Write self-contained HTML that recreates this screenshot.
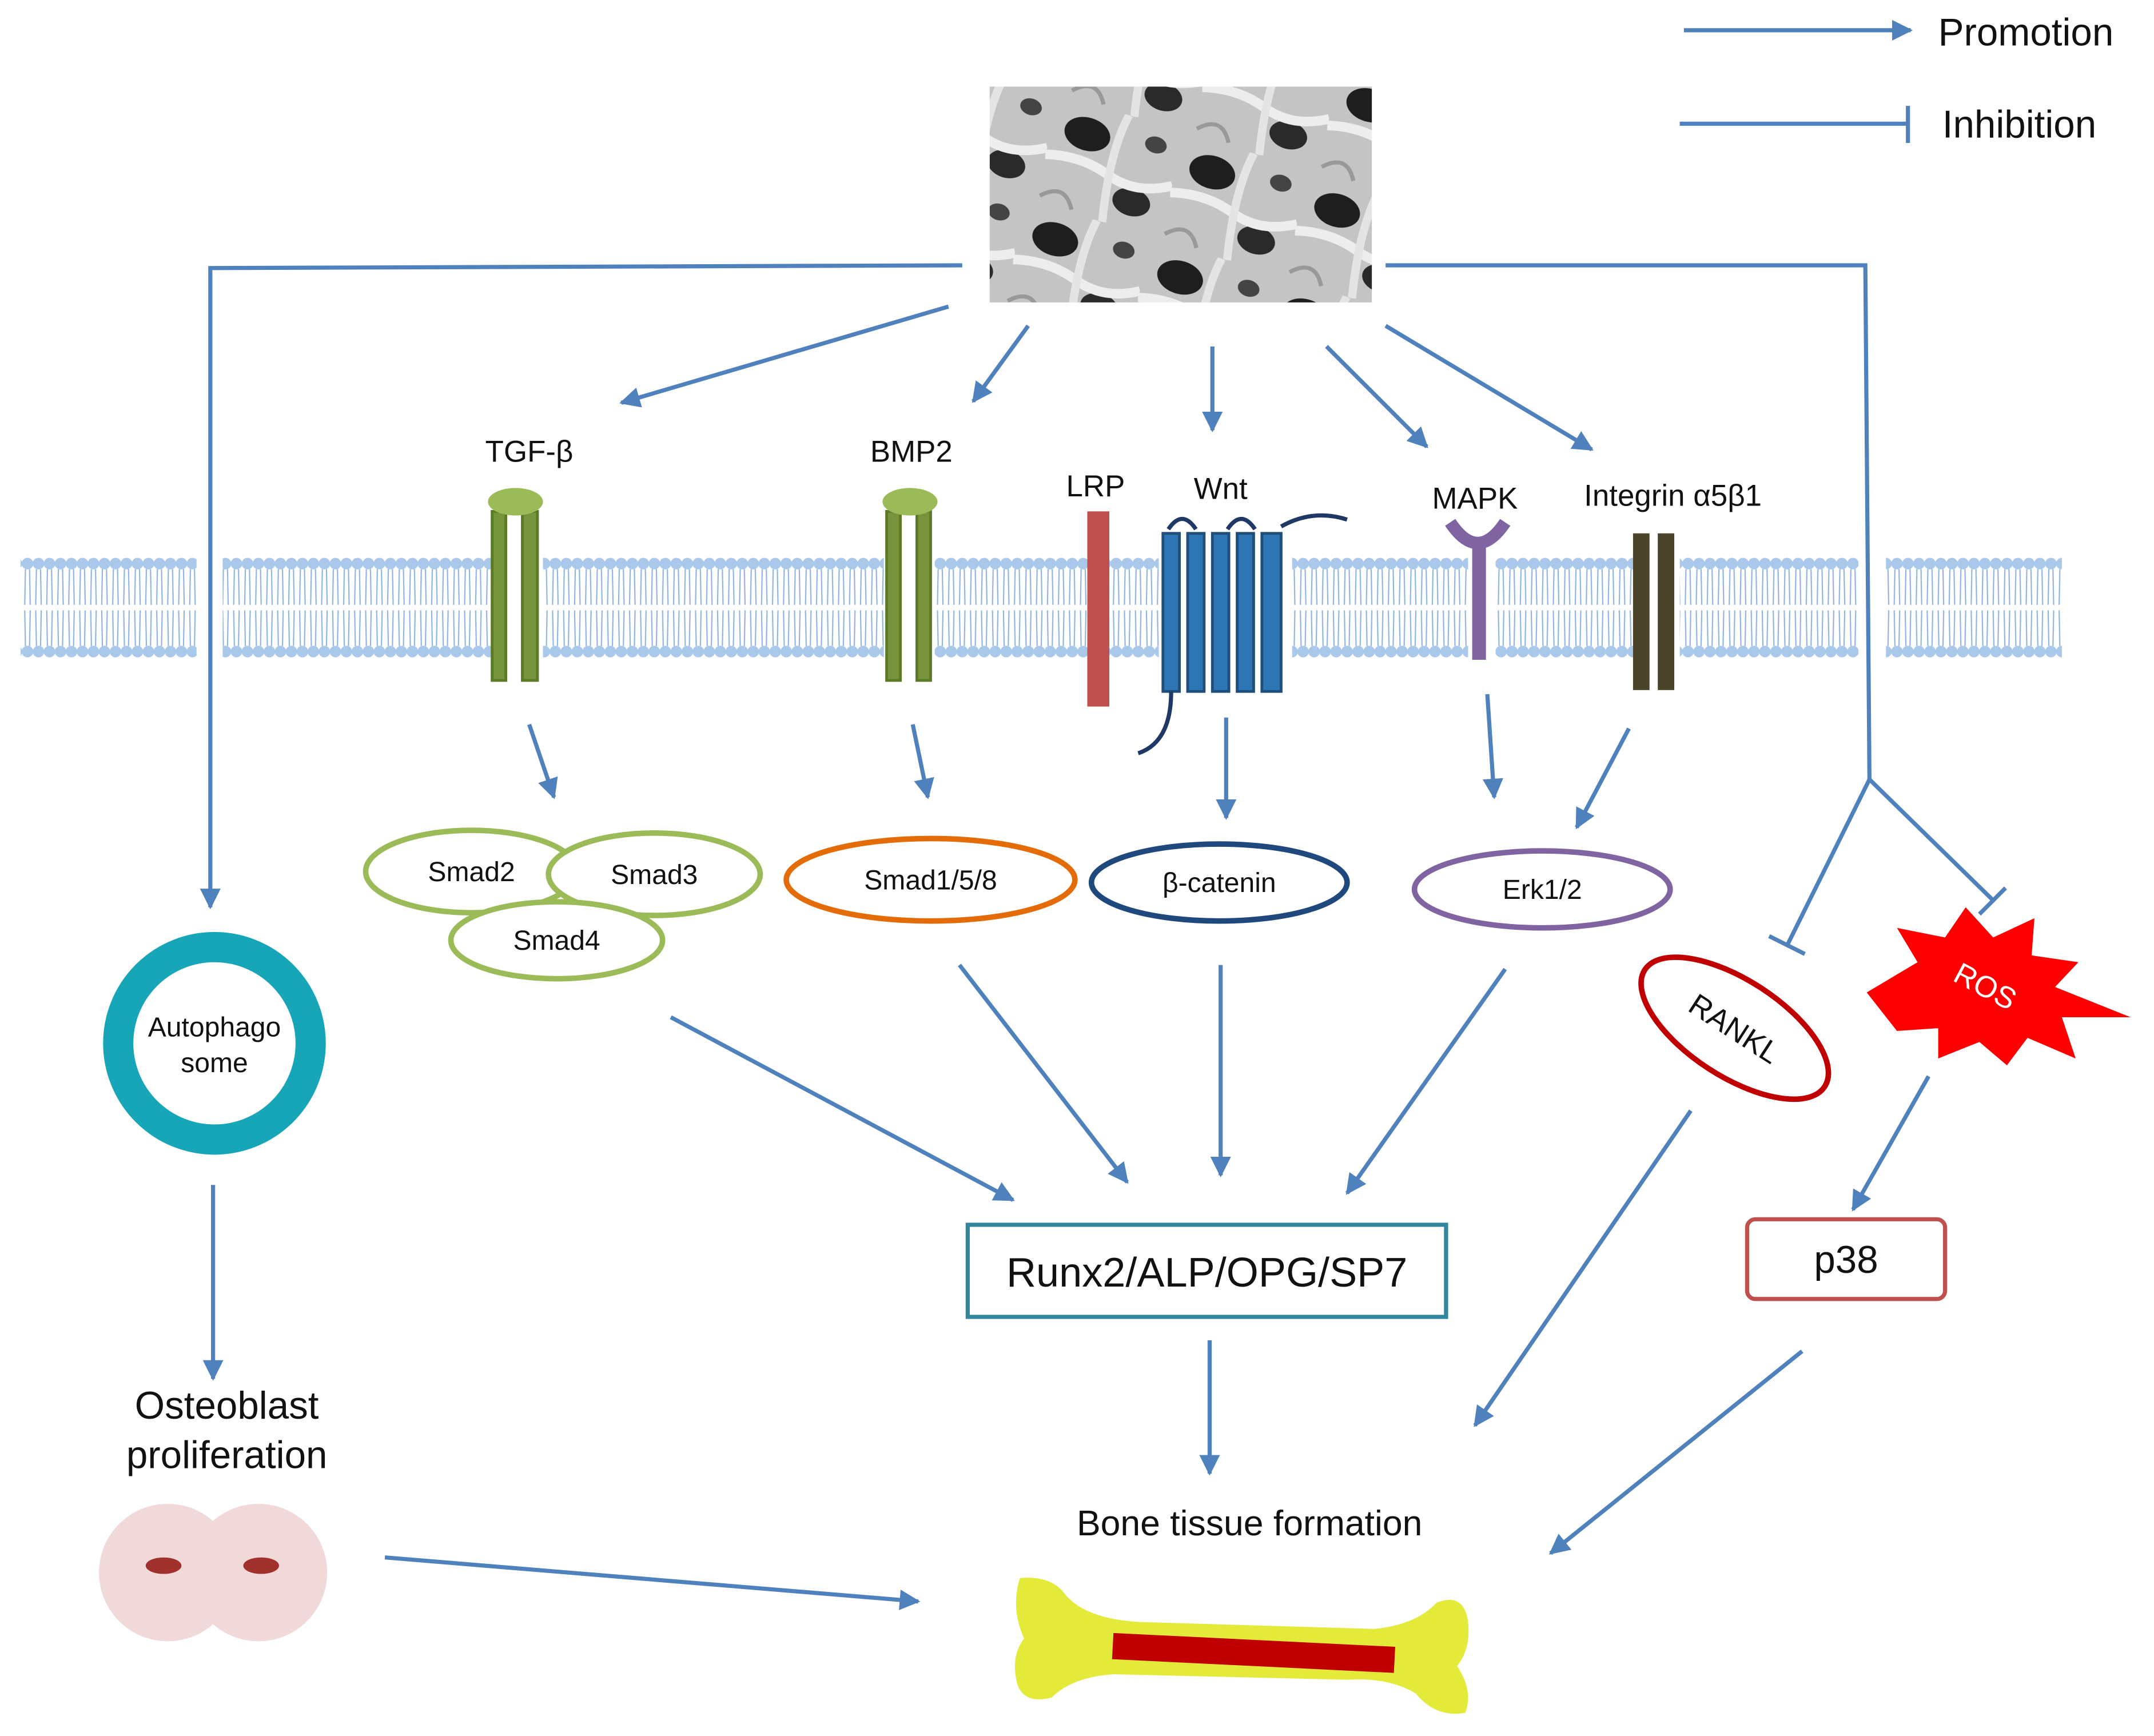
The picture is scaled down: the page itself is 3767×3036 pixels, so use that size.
<!DOCTYPE html>
<html><head><meta charset="utf-8"><style>
html,body{margin:0;padding:0;background:#fff;}
svg{display:block;}
text{font-family:"Liberation Sans",sans-serif;}
</style></head><body>
<svg width="3767" height="3036" viewBox="0 0 1567 1262.9" xmlns="http://www.w3.org/2000/svg">
<defs>
<marker id="a" viewBox="0 0 10 10" refX="9" refY="5" markerWidth="5" markerHeight="5" orient="auto"><path d="M0,0 L10,5 L0,10 z" fill="#4f81bd"/></marker>
<pattern id="mem" width="8" height="80" patternUnits="userSpaceOnUse" y="402">
<circle cx="4" cy="8" r="4.2" fill="#a9c8ea"/>
<circle cx="4" cy="72" r="4.2" fill="#a9c8ea"/>
<path d="M2.5,12 L2,38 M5.5,12 L6,38 M2,42 L2.5,68 M6,42 L5.5,68" stroke="#8fb4e0" stroke-width="0.9" fill="none"/>
</pattern>
<pattern id="sem" width="95" height="80" patternUnits="userSpaceOnUse" patternTransform="rotate(17)">
<rect width="95" height="80" fill="#c4c4c4"/>
<ellipse cx="25" cy="22" rx="17" ry="12" fill="#1e1e1e"/>
<ellipse cx="70" cy="60" rx="14" ry="10" fill="#2a2a2a"/>
<ellipse cx="75" cy="15" rx="8" ry="6" fill="#444"/>
<path d="M0,45 Q25,38 48,46 T95,40" stroke="#ededed" stroke-width="7" fill="none"/>
<path d="M50,0 Q44,30 54,80" stroke="#e4e4e4" stroke-width="6" fill="none"/>
<path d="M5,75 Q20,60 30,78" stroke="#999" stroke-width="3" fill="none"/>
</pattern>
</defs>
<g stroke="#4f81bd" stroke-width="3" fill="none">
<line x1="1225" y1="22" x2="1390" y2="22" marker-end="url(#a)"/>
<line x1="1222" y1="90" x2="1388" y2="90"/><line x1="1388" y1="77" x2="1388" y2="104"/>
<polyline points="700,193 153,195 153,660" marker-end="url(#a)"/>
<polyline points="1008,193 1357,193 1360,567"/>
<line x1="1360" y1="567" x2="1300" y2="688"/><line x1="1287" y1="681" x2="1313" y2="694"/>
<line x1="1360" y1="567" x2="1450" y2="655"/><line x1="1440" y1="665" x2="1459" y2="646"/>
<line x1="690" y1="223" x2="452" y2="293" marker-end="url(#a)"/>
<line x1="748" y1="237" x2="708" y2="292" marker-end="url(#a)"/>
<line x1="882" y1="252" x2="882" y2="313" marker-end="url(#a)"/>
<line x1="965" y1="252" x2="1038" y2="325" marker-end="url(#a)"/>
<line x1="1008" y1="237" x2="1158" y2="327" marker-end="url(#a)"/>
<line x1="385" y1="527" x2="403" y2="580" marker-end="url(#a)"/>
<line x1="664" y1="527" x2="675" y2="580" marker-end="url(#a)"/>
<line x1="892" y1="522" x2="892" y2="595" marker-end="url(#a)"/>
<line x1="1082" y1="505" x2="1087" y2="580" marker-end="url(#a)"/>
<line x1="1185" y1="530" x2="1147" y2="602" marker-end="url(#a)"/>
<line x1="488" y1="740" x2="737" y2="873" marker-end="url(#a)"/>
<line x1="698" y1="702" x2="820" y2="860" marker-end="url(#a)"/>
<line x1="888" y1="702" x2="888" y2="855" marker-end="url(#a)"/>
<line x1="1095" y1="705" x2="980" y2="868" marker-end="url(#a)"/>
<line x1="880" y1="975" x2="880" y2="1072" marker-end="url(#a)"/>
<line x1="155" y1="862" x2="155" y2="1003" marker-end="url(#a)"/>
<line x1="280" y1="1133" x2="668" y2="1165" marker-end="url(#a)"/>
<line x1="1230" y1="808" x2="1073" y2="1037" marker-end="url(#a)"/>
<line x1="1403" y1="783" x2="1348" y2="880" marker-end="url(#a)"/>
<line x1="1311" y1="983" x2="1128" y2="1130" marker-end="url(#a)"/>
</g>
<text x="1410" y="33" font-size="28" fill="#111">Promotion</text>
<text x="1413" y="100" font-size="28" fill="#111">Inhibition</text>
<rect x="720" y="63" width="278" height="157" fill="url(#sem)"/>
<g fill="url(#mem)">
<rect x="15" y="402" width="128" height="80"/><rect x="162" y="402" width="195" height="80"/>
<rect x="395" y="402" width="248" height="80"/><rect x="680" y="402" width="163" height="80"/>
<rect x="940" y="402" width="128" height="80"/><rect x="1088" y="402" width="100" height="80"/>
<rect x="1222" y="402" width="130" height="80"/><rect x="1372" y="402" width="128" height="80"/>
</g>
<g fill="#77933c" stroke="#5b7a26" stroke-width="2">
<rect x="358" y="372" width="10" height="123"/><rect x="380" y="372" width="11" height="123"/>
<rect x="645" y="372" width="10" height="123"/><rect x="667" y="372" width="10" height="123"/>
</g>
<ellipse cx="375" cy="365" rx="20" ry="10" fill="#9bbb59"/>
<ellipse cx="662" cy="365" rx="20" ry="10" fill="#9bbb59"/>
<rect x="791" y="372" width="16" height="142" fill="#c0504d"/>
<g fill="#2e75b6" stroke="#1f4e79" stroke-width="2">
<rect x="846" y="388" width="12" height="115"/><rect x="864" y="388" width="12" height="115"/>
<rect x="882" y="388" width="12" height="115"/><rect x="900" y="388" width="12" height="115"/>
<rect x="918" y="388" width="14" height="115"/>
</g>
<path d="M850,385 Q860,370 870,385 M893,385 Q903,370 913,385 M932,383 Q955,370 980,378 M852,503 Q852,540 828,548" stroke="#1f3864" stroke-width="3" fill="none"/>
<path d="M1055,380 Q1075,410 1095,380" stroke="#8064a2" stroke-width="9" fill="none"/>
<rect x="1071" y="396" width="10" height="84" fill="#8064a2"/>
<rect x="1188" y="388" width="12" height="114" fill="#4a452a"/><rect x="1206" y="388" width="12" height="114" fill="#4a452a"/>
<g font-size="22" fill="#111" text-anchor="middle">
<text x="385" y="336">TGF-β</text><text x="663" y="336">BMP2</text>
<text x="797" y="361">LRP</text><text x="888" y="363">Wnt</text>
<text x="1073" y="370">MAPK</text><text x="1217" y="368">Integrin α5β1</text>
</g>
<g fill="#fff" stroke-width="4">
<ellipse cx="343" cy="634" rx="77" ry="30" stroke="#9bbb59"/>
<ellipse cx="476" cy="636" rx="77" ry="30" stroke="#9bbb59"/>
<ellipse cx="405" cy="684" rx="77" ry="28" stroke="#9bbb59"/>
<ellipse cx="677" cy="640" rx="105" ry="30" stroke="#e36c09"/>
<ellipse cx="887" cy="642" rx="93" ry="28" stroke="#1f497d"/>
<ellipse cx="1122" cy="647" rx="93" ry="28" stroke="#8064a2"/>
</g>
<g font-size="20" fill="#111" text-anchor="middle">
<text x="343" y="641">Smad2</text><text x="476" y="643">Smad3</text><text x="405" y="691">Smad4</text>
<text x="677" y="647">Smad1/5/8</text><text x="887" y="649">β-catenin</text><text x="1122" y="654">Erk1/2</text>
</g>
<rect x="704" y="891" width="348" height="67" fill="#fff" stroke="#31859c" stroke-width="3"/>
<text x="878" y="936" font-size="30" text-anchor="middle" fill="#111">Runx2/ALP/OPG/SP7</text>
<text x="909" y="1117" font-size="26" text-anchor="middle" fill="#111">Bone tissue formation</text>
<path d="M742,1148 Q765,1146 775,1160 Q790,1178 830,1180 L1000,1185 Q1030,1182 1045,1166 Q1065,1158 1068,1180 Q1070,1200 1060,1212 Q1072,1230 1066,1246 Q1045,1250 1030,1232 Q1010,1220 980,1222 L810,1218 Q780,1220 765,1235 Q745,1240 740,1225 Q735,1205 745,1192 Q735,1170 742,1148 Z" fill="#e3ea3a"/>
<polygon points="810,1188 1015,1198 1014,1217 809,1207" fill="#c00000"/>
<circle cx="156" cy="759" r="70" fill="none" stroke="#17a5b8" stroke-width="22"/>
<text x="156" y="754" font-size="20" text-anchor="middle" fill="#111">Autophago</text>
<text x="156" y="780" font-size="20" text-anchor="middle" fill="#111">some</text>
<text x="165" y="1032" font-size="28" text-anchor="middle" fill="#111">Osteoblast</text>
<text x="165" y="1068" font-size="28" text-anchor="middle" fill="#111">proliferation</text>
<circle cx="122" cy="1144" r="50" fill="#f2d9d9"/><circle cx="188" cy="1144" r="50" fill="#f2d9d9"/>
<ellipse cx="119" cy="1139" rx="13" ry="6" fill="#a0312c"/><ellipse cx="190" cy="1139" rx="13" ry="6" fill="#a0312c"/>
<ellipse cx="1262" cy="748" rx="78" ry="35" transform="rotate(33 1262 748)" fill="#fff" stroke="#c00000" stroke-width="4"/>
<text x="1262" y="756" font-size="22" text-anchor="middle" fill="#111" transform="rotate(33 1262 748)">RANKL</text>
<polygon points="1358,722 1395,700 1380,675 1415,682 1430,660 1450,682 1480,668 1478,695 1512,700 1495,718 1550,740 1500,740 1510,770 1475,755 1460,775 1440,758 1410,770 1410,748 1380,750" fill="#ff0000"/>
<text x="1444" y="725" font-size="22" text-anchor="middle" fill="#fff" transform="rotate(28 1444 718)">ROS</text>
<rect x="1271" y="887" width="144" height="58" rx="6" fill="#fff" stroke="#c0504d" stroke-width="3"/>
<text x="1343" y="926" font-size="28" text-anchor="middle" fill="#111">p38</text>
</svg>
</body></html>
